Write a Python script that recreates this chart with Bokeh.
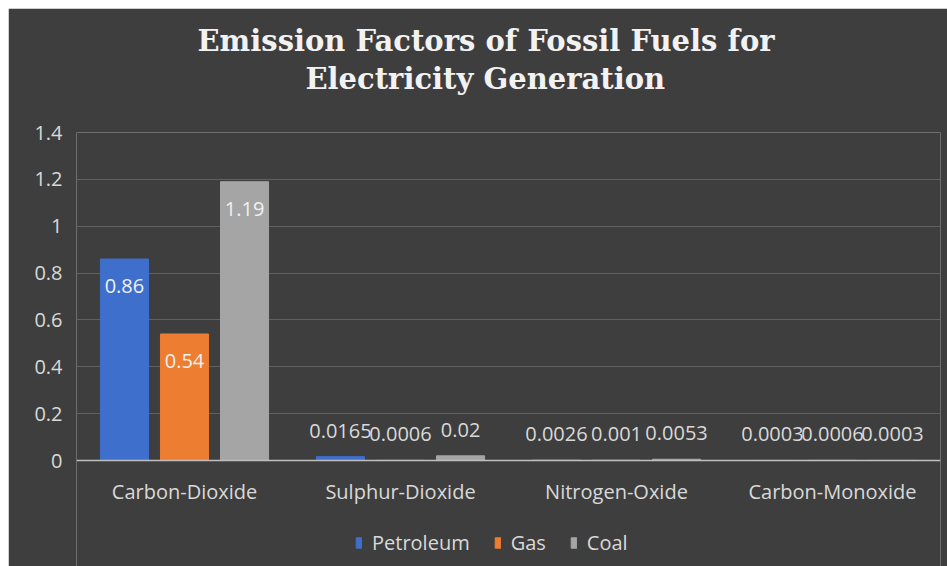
from bokeh.plotting import figure
from bokeh.models import (ColumnDataSource, FactorRange, Legend, LegendItem, LabelSet,
                          Title, FixedTicker, CustomJSTickFormatter, Range1d)
from bokeh.core.properties import value
from bokeh.transform import dodge
from bokeh.embed import file_html
from bokeh.resources import INLINE

# ---- data ----
categories = ["Carbon-Dioxide", "Sulphur-Dioxide", "Nitrogen-Oxide", "Carbon-Monoxide"]
series_names = ["Petroleum", "Gas", "Coal"]
petroleum = [0.86, 0.0165, 0.0026, 0.0003]
gas = [0.54, 0.0006, 0.001, 0.0006]
coal = [1.19, 0.02, 0.0053, 0.0003]
y_ticks = [0, 0.2, 0.4, 0.6, 0.8, 1.0, 1.2, 1.4]
title_lines = ["Emission Factors of Fossil Fuels for", "Electricity Generation"]

# ---- style ----
BG = "#3e3e3e"
TXT = "#d9d9d9"
FONT = "Open Sans"
colors = ["#3f6fcc", "#ed7d31", "#a5a5a5"]
offsets = [-0.278, 0.0, 0.278]
BAR_W = 0.2225

p = figure(x_range=FactorRange(*categories, range_padding=0),
           y_range=Range1d(-0.4524, 1.4),
           width=939, height=558, margin=(8, 0, 0, 8),
           output_backend="svg", toolbar_location=None,
           min_border_left=68, min_border_right=7, min_border_top=124, min_border_bottom=0)
p.background_fill_color = BG
p.border_fill_color = BG
p.outline_line_color = None

series_values = [petroleum, gas, coal]
items = []
for name, vals, col, off in zip(series_names, series_values, colors, offsets):
    src = ColumnDataSource(dict(x=categories, y=vals))
    r = p.vbar(x=dodge("x", off, range=p.x_range), top="y", width=BAR_W, source=src,
               fill_color=col, line_color=col, line_width=1)
    items.append(LegendItem(label=name, renderers=[r]))
    big = [i for i, v in enumerate(vals) if v > 0.1]
    small = [i for i, v in enumerate(vals) if v <= 0.1]
    src_in = ColumnDataSource(dict(x=[categories[i] for i in big], y=[vals[i] for i in big],
                                   t=[str(vals[i]) for i in big]))
    src_out = ColumnDataSource(dict(x=[categories[i] for i in small], y=[vals[i] for i in small],
                                    t=[str(vals[i]) for i in small]))
    p.add_layout(LabelSet(x=dodge("x", off, range=p.x_range), y="y", text="t", source=src_in,
                          y_offset=-27, text_align="center", text_baseline="middle",
                          text_font=value(FONT), text_font_size=value("20px"),
                          text_color="#f0f0f0"))
    p.add_layout(LabelSet(x=dodge("x", off, range=p.x_range), y="y", text="t", source=src_out,
                          y_offset=26, text_align="center", text_baseline="middle",
                          text_font=value(FONT), text_font_size=value("20px"),
                          text_color=TXT))

# axes
p.yaxis.ticker = FixedTicker(ticks=y_ticks)
p.yaxis.formatter = CustomJSTickFormatter(code="return String(Math.round(tick*10)/10);")
p.yaxis.bounds = (0, 1.4)
p.yaxis.axis_line_color = None
p.yaxis.major_tick_line_color = None
p.yaxis.major_tick_in = 0
p.yaxis.major_tick_out = 0
p.yaxis.minor_tick_line_color = None
p.yaxis.major_label_standoff = 14
p.yaxis.major_label_text_font = FONT
p.yaxis.major_label_text_font_size = "20px"
p.yaxis.major_label_text_color = TXT

p.xaxis.fixed_location = 0
p.xaxis.axis_line_color = "#bfbfbf"
p.xaxis.axis_line_width = 1.5
p.xaxis.separator_line_color = None
p.xaxis.major_tick_line_color = None
p.xaxis.major_tick_in = 0
p.xaxis.major_tick_out = 0
p.xaxis.minor_tick_line_color = None
p.xaxis.major_label_standoff = 17
p.xaxis.major_label_text_font = FONT
p.xaxis.major_label_text_font_size = "20px"
p.xaxis.major_label_text_color = TXT

p.xgrid.grid_line_color = None
p.ygrid.ticker = FixedTicker(ticks=y_ticks)
p.ygrid.grid_line_color = "#616161"
p.ygrid.grid_line_width = 1

legend = Legend(items=items, orientation="horizontal", location=(279, 10),
                label_text_font=FONT, label_text_font_size="20px", label_text_color=TXT,
                glyph_width=7, glyph_height=13, spacing=24, label_standoff=10,
                background_fill_alpha=0, border_line_color=None, margin=0, padding=4)
p.add_layout(legend)

# title: spacer nearest the frame, then line 2, then line 1
p.add_layout(Title(text=" ", text_font_size="1px", standoff=33), "above")
title_offsets = [121, 229]
for line, off in reversed(list(zip(title_lines, title_offsets))):
    p.add_layout(Title(text=line, align="left", text_font="DejaVu Serif",
                       text_font_size="29px", text_font_style="bold", text_color="#f2f2f2",
                       offset=off, standoff=2), "above")

open("out.html", "w").write(file_html(p, INLINE))
